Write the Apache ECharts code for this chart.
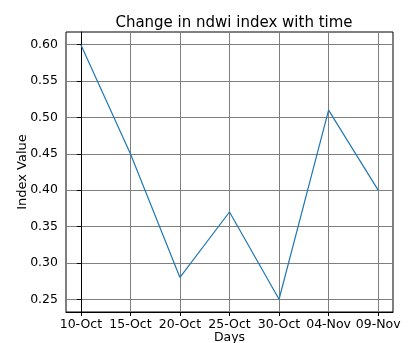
<!DOCTYPE html>
<html>
<head>
<meta charset="utf-8">
<script src="https://cdn.jsdelivr.net/npm/echarts@6/dist/echarts.min.js"></script>
<style>
  html, body { margin: 0; padding: 0; background: #fff; }
  #chart { width: 411px; height: 343px; }
</style>
</head>
<body>
<div id="chart"></div>
<script>
// Dates sampled every five days, with the NDWI value measured on each
const dayLabels = ['10-Oct', '15-Oct', '20-Oct', '25-Oct', '30-Oct', '04-Nov', '09-Nov'];
const ndwiValues = [0.60, 0.45, 0.28, 0.37, 0.25, 0.51, 0.40];
const yTickValues = [0.25, 0.30, 0.35, 0.40, 0.45, 0.50, 0.55, 0.60];

const xTickValues = dayLabels.map((_, i) => i);
const points = ndwiValues.map((v, i) => [i, v]);

// 5% padding on each side of the data range
const xPad = (dayLabels.length - 1) * 0.05;
const yMin = Math.min(...ndwiValues), yMax = Math.max(...ndwiValues);
const yPad = (yMax - yMin) * 0.05;

const font = 'DejaVu Sans';
const chart = echarts.init(document.getElementById('chart'), null, { renderer: 'canvas' });

chart.setOption({
  animation: false,
  backgroundColor: '#ffffff',
  title: {
    text: 'Change in ndwi index with time',
    left: 229,
    textAlign: 'center',
    top: 11,
    textStyle: { fontFamily: font, fontSize: 15, fontWeight: 'normal', color: '#000' }
  },
  grid: {
    left: 66, right: 18, top: 32, bottom: 31,
    outerBoundsMode: 'none',
    containLabel: false,
    show: true, borderColor: '#000', borderWidth: 1, backgroundColor: 'transparent'
  },
  xAxis: {
    type: 'value',
    min: -xPad,
    max: dayLabels.length - 1 + xPad,
    name: 'Days',
    nameLocation: 'middle',
    nameGap: 19,
    nameMoveOverlap: false,
    nameTextStyle: { fontFamily: font, fontSize: 12.5, color: '#000' },
    axisLine: { show: true, lineStyle: { color: '#000', width: 1 } },
    axisTick: { show: true, length: 4, inside: false, customValues: xTickValues, lineStyle: { color: '#000' } },
    axisLabel: {
      customValues: xTickValues,
      margin: 6,
      fontFamily: font, fontSize: 12.5, color: '#000',
      formatter: v => dayLabels[Math.round(v)]
    },
    splitLine: { show: true, lineStyle: { color: '#7f7f7f', width: 1 } }
  },
  yAxis: {
    type: 'value',
    min: yMin - yPad,
    max: yMax + yPad,
    name: 'Index Value',
    nameLocation: 'middle',
    nameGap: 37,
    nameMoveOverlap: false,
    nameRotate: 90,
    nameTextStyle: { fontFamily: font, fontSize: 13, color: '#000' },
    axisLine: { show: true, lineStyle: { color: '#000', width: 1 } },
    axisTick: { show: true, length: 4, inside: false, customValues: yTickValues, lineStyle: { color: '#000' } },
    axisLabel: {
      customValues: yTickValues,
      margin: 8,
      fontFamily: font, fontSize: 12.5, color: '#000',
      formatter: v => v.toFixed(2)
    },
    splitLine: { show: true, lineStyle: { color: '#7f7f7f', width: 1 } }
  },
  series: [{
    type: 'line',
    data: points,
    showSymbol: false,
    symbol: 'none',
    lineStyle: { color: '#1f77b4', width: 1.2 },
    z: 5
  }]
});
</script>
</body>
</html>
